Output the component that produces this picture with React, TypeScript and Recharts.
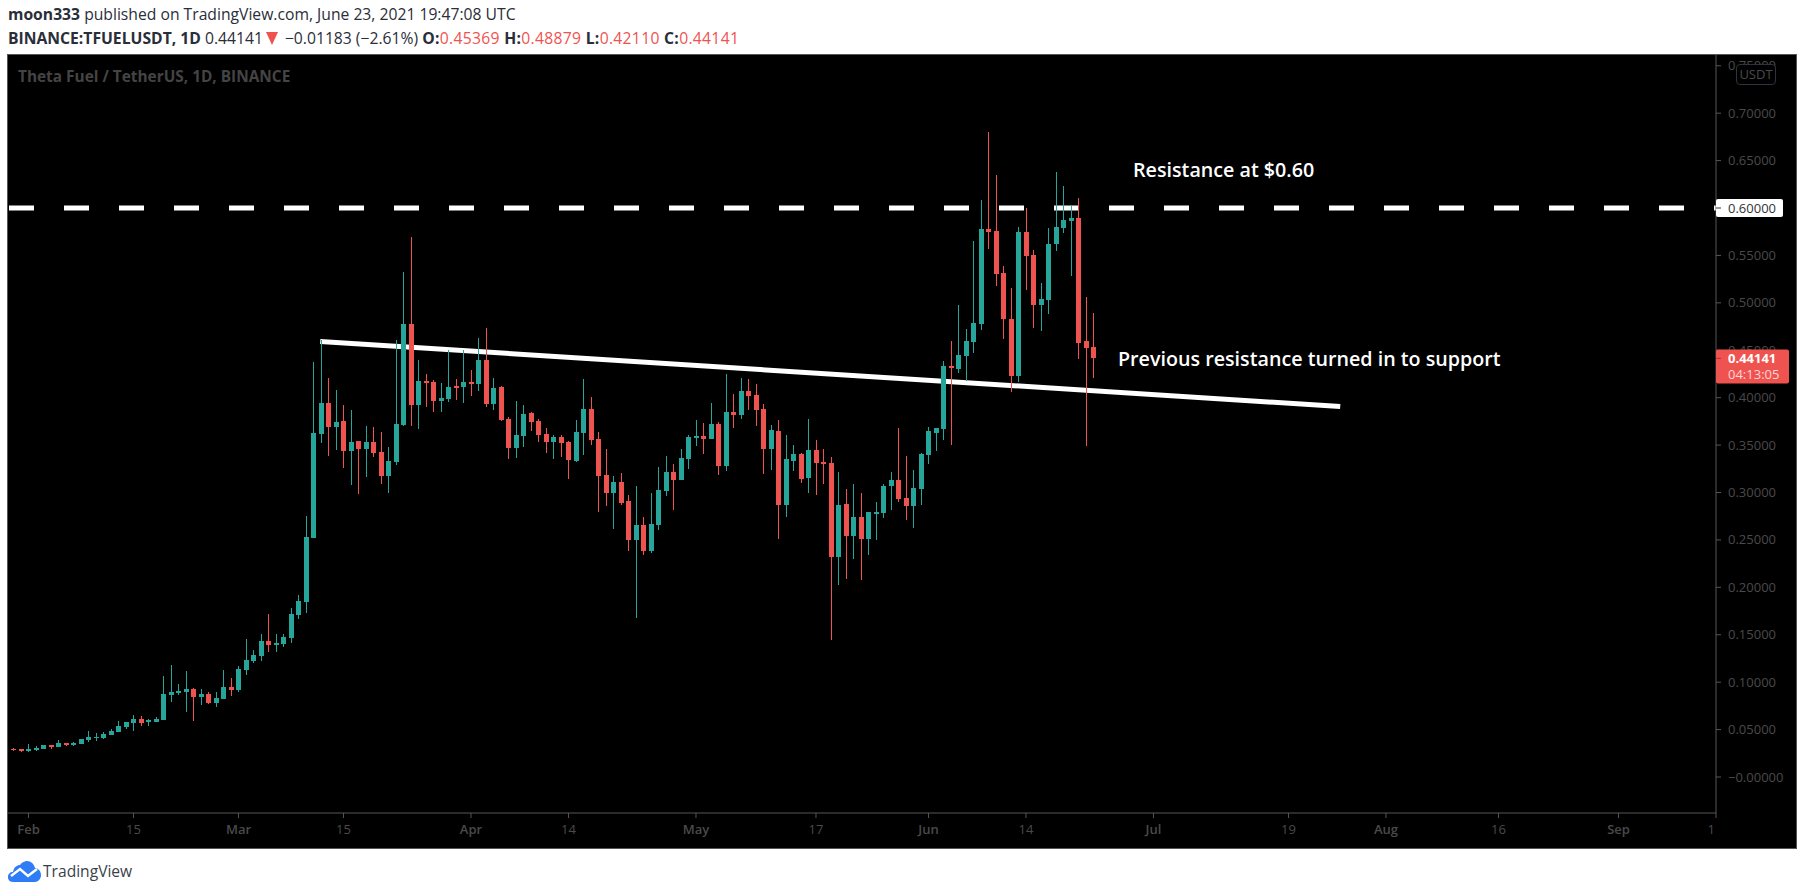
import React from 'react';
import { ComposedChart, Bar, XAxis, YAxis, ReferenceLine, ReferenceDot } from 'recharts';

const UP = '#26a69a';
const DOWN = '#ef5350';
const AXIS = '#565656';
const LABEL = '#4a4a4a';
const FONT = '"Open Sans", sans-serif';

// daily candles, day 0 is Feb 1 and the first candle is Jan 30
const firstDay = -2;
const opens = [
  .0299, .0292, .0274, .0285, .0295, .0337, .0316, .0359, .0337, .0348,
  .0390, .0415, .0411, .0443, .0475, .0527, .0569, .0612, .0591, .0580,
  .0601, .0865, .0882, .0896, .0928, .0844, .0875, .0780, .0823, .0949,
  .0917, .1128, .1223, .1276, .1434, .1392, .1402, .1466, .1708, .1845,
  .2520, .3617, .3944, .3691, .3754, .3438, .3543, .3459, .3533, .3427,
  .3174, .3322, .3712, .4777, .3923, .4176, .4165, .3965, .3986, .4123,
  .4112, .4165, .4144, .4397, .3933, .4112, .3775, .3469, .3596, .3838,
  .3754, .3617, .3533, .3585, .3533, .3332, .3627, .3880, .3564, .3185,
  .2995, .3111, .2910, .2499, .2657, .2383, .2657, .3016, .3216, .3132,
  .3353, .3575, .3596, .3564, .3722, .3279, .3849, .3817, .4070, .4028,
  .3880, .3459, .3649, .2868, .3332, .3406, .3153, .3448, .3322, .3311,
  .2320, .2879, .2541, .2742, .2510, .2773, .2784, .3069, .3132, .2942,
  .2858, .3037, .3395, .3627, .3670, .4334, .4302, .4439, .4587, .4777,
  .5779, .5757, .5315, .4830, .4228, .5747, .5504, .4977, .5030, .5620,
  .5789, .5863, .5895, .4598, .45369,
];
const highs = [
  .0306, .0295, .0348, .0327, .0337, .0337, .0390, .0359, .0369, .0401,
  .0485, .0464, .0475, .0506, .0591, .0580, .0654, .0643, .0612, .0633,
  .1065, .1181, .0981, .1118, .0939, .0928, .0896, .0896, .1128, .1044,
  .1170, .1455, .1339, .1508, .1719, .1508, .1508, .1782, .1919, .2752,
  .4376, .4608, .4207, .4081, .3923, .3870, .3543, .3701, .3691, .3638,
  .3480, .4608, .5325, .5694, .4397, .4250, .4186, .4155, .4503, .4197,
  .4503, .4292, .4629, .4735, .4207, .4123, .3796, .3965, .3923, .3849,
  .3775, .3680, .3606, .3606, .3543, .3764, .4197, .4007, .3638, .3459,
  .3174, .3206, .2974, .3069, .2742, .2995, .3269, .3385, .3301, .3459,
  .3606, .3764, .3733, .3944, .3743, .4250, .4039, .4207, .4197, .4144,
  .3933, .3712, .3764, .3606, .3501, .3416, .3775, .3554, .3459, .3374,
  .3216, .3037, .3090, .2995, .2794, .2900, .3090, .3216, .3680, .3385,
  .3237, .3416, .3691, .3680, .4387, .4598, .4977, .4724, .5652, .6084,
  .6801, .6348, .5388, .5156, .5800, .6000, .5557, .5209, .5789, .6380,
  .6232, .6032, .6105, .5062, .48879,
];
const lows = [
  .0278, .0264, .0264, .0274, .0295, .0295, .0316, .0327, .0327, .0348,
  .0369, .0380, .0401, .0443, .0475, .0506, .0485, .0538, .0538, .0580,
  .0601, .0791, .0865, .0685, .0591, .0759, .0770, .0738, .0823, .0854,
  .0896, .1076, .1202, .1223, .1318, .1318, .1371, .1413, .1666, .1729,
  .2520, .3522, .3385, .3448, .3258, .3079, .2984, .3163, .3374, .3090,
  .2995, .3290, .3701, .3701, .3670, .3902, .3849, .3849, .3954, .3975,
  .3944, .4018, .4070, .3902, .3870, .3754, .3353, .3364, .3480, .3649,
  .3533, .3416, .3353, .3374, .3142, .3322, .3395, .3501, .2794, .2858,
  .2615, .2868, .2383, .1677, .2341, .2362, .2605, .2963, .2815, .3132,
  .3248, .3490, .3406, .3564, .3185, .3227, .3680, .3775, .3870, .3701,
  .3195, .3237, .2510, .2742, .3227, .3100, .2995, .2974, .3090, .1445,
  .2025, .2088, .2299, .2077, .2341, .2499, .2731, .2815, .2900, .2710,
  .2626, .2868, .3301, .3438, .3554, .3501, .4260, .4176, .4471, .4714,
  .5568, .5178, .4619, .4060, .4165, .5135, .4735, .4703, .4882, .5547,
  .5736, .5283, .4408, .3490, .42110,
];
const closes = [
  .0285, .0274, .0295, .0309, .0337, .0316, .0359, .0337, .0359, .0401,
  .0422, .0425, .0453, .0485, .0538, .0580, .0612, .0569, .0601, .0612,
  .0875, .0896, .0907, .0928, .0844, .0875, .0780, .0833, .0949, .0917,
  .1139, .1234, .1286, .1434, .1392, .1413, .1476, .1719, .1856, .2531,
  .3627, .3944, .3691, .3743, .3438, .3533, .3459, .3533, .3416, .3174,
  .3332, .3722, .4777, .3923, .4176, .4155, .3965, .3996, .4112, .4102,
  .4165, .4144, .4397, .3933, .4102, .3764, .3469, .3606, .3828, .3743,
  .3606, .3533, .3585, .3522, .3343, .3638, .3880, .3554, .3174, .2995,
  .3111, .2889, .2499, .2657, .2383, .2668, .3026, .3216, .3132, .3364,
  .3585, .3596, .3564, .3722, .3279, .3849, .3817, .4070, .4018, .3870,
  .3459, .3659, .2868, .3353, .3406, .3142, .3448, .3311, .3301, .2320,
  .2868, .2541, .2742, .2510, .2794, .2794, .3069, .3132, .2931, .2858,
  .3047, .3406, .3649, .3680, .4334, .4313, .4450, .4598, .4787, .5779,
  .5747, .5304, .4830, .4228, .5747, .5494, .4977, .5040, .5620, .5800,
  .5873, .5895, .4576, .4524, .44141,
];

const resistance = 0.6;
const lastPrice = 0.44141;
const lastDay = 225;
const trendStart = { x: 38.9, y: 0.4592 };
const trendEnd = { x: 174.9, y: 0.3907 };

// last price goes at the end so its tag is painted over the 0.45 label
const priceTicks = [0, .05, .1, .15, .2, .25, .3, .35, .4, .45, .5, .55, .6, .65, .7, .75, lastPrice];
const dateTicks = [0, 14, 28, 42, 59, 72, 89, 105, 120, 133, 150, 168, 181, 196, 212, 225];
const dateLabels = ['Feb', '15', 'Mar', '15', 'Apr', '14', 'May', '17', 'Jun', '14', 'Jul', '19', 'Aug', '16', 'Sep', '1'];
const monthLabels = ['Feb', 'Mar', 'Apr', 'May', 'Jun', 'Jul', 'Aug', 'Sep'];

const candles = opens.map((open, i) => ({
  day: firstDay + i,
  open,
  close: closes[i],
  high: highs[i],
  low: lows[i],
  range: [lows[i], highs[i]],
}));

// wick and body are worked out from the bar the library already scaled
const Candle = (props: any) => {
  const { x, y, width, height, payload } = props;
  const pxPerUnit = height / (payload.high - payload.low);
  const color = payload.close >= payload.open ? UP : DOWN;
  const top = y + (payload.high - Math.max(payload.open, payload.close)) * pxPerUnit;
  const bottom = y + (payload.high - Math.min(payload.open, payload.close)) * pxPerUnit;
  const cx = Math.round(x + width / 2);
  return (
    <g shapeRendering="crispEdges">
      <rect x={cx - 0.5} y={y} width={1} height={height} fill={color} />
      <rect x={cx - 2.5} y={top} width={5} height={Math.max(bottom - top, 1.5)} fill={color} />
    </g>
  );
};

const DateTick = (props: any) => {
  const { x, y, payload } = props;
  const label = dateLabels[dateTicks.indexOf(payload.value)];
  const isMonth = monthLabels.includes(label);
  const isCut = payload.value === lastDay;
  return (
    <text
      x={isCut ? x - 1 : x}
      y={y + 14}
      textAnchor={isCut ? 'end' : 'middle'}
      fontFamily={FONT}
      fontSize={13}
      fontWeight={isMonth ? 600 : 400}
      fill={LABEL}
    >
      {label}
    </text>
  );
};

// the tick x sits past the 5px tick line, labels start 12px off the axis
const PriceTick = (props: any) => {
  const { x, y, payload } = props;
  const axisX = x - 5;
  const textX = axisX + 12;
  if (payload.value === lastPrice) {
    return (
      <g fontFamily={FONT} fontSize={13}>
        <rect x={axisX} y={y - 9} width={73} height={34} rx={2} fill={DOWN} />
        <line x1={axisX} x2={axisX + 5} y1={y} y2={y} stroke="#a33" />
        <text x={textX} y={y + 4.5} fontWeight={700} fill="#ffffff">0.44141</text>
        <text x={textX} y={y + 20.5} fill="#ffd5d5">04:13:05</text>
      </g>
    );
  }
  if (payload.value === resistance) {
    return (
      <g fontFamily={FONT} fontSize={13}>
        <rect x={axisX} y={y - 9} width={67} height={18} rx={2} fill="#ffffff" />
        <line x1={axisX} x2={axisX + 5} y1={y} y2={y} stroke="#333" />
        <text x={textX} y={y + 4.5} fill="#333">0.60000</text>
      </g>
    );
  }
  return (
    <text x={textX} y={y + 4.5} fontFamily={FONT} fontSize={13} fill={LABEL}>
      {payload.value === 0 ? '\u22120.00000' : payload.value.toFixed(5)}
    </text>
  );
};

const Note = ({ cx, cy, text }: any) => (
  <text x={cx} y={cy} dominantBaseline="central" fontFamily={FONT} fontSize={19.7} fontWeight={600} fill="#ffffff">
    {text}
  </text>
);

const red = { color: DOWN };

export default function App() {
  return (
    <div style={{ position: 'absolute', left: 0, top: 0, width: 1805, height: 895, background: '#fff', overflow: 'hidden', fontFamily: FONT }}>
      <div style={{ position: 'absolute', left: 8, top: 4, fontSize: 15.7, lineHeight: '20px', color: '#2a2e39', whiteSpace: 'nowrap' }}>
        <b>moon333</b> published on TradingView.com, June 23, 2021 19:47:08 UTC
      </div>
      <div style={{ position: 'absolute', left: 8, top: 28, fontSize: 15.7, lineHeight: '20px', color: '#2a2e39', whiteSpace: 'nowrap' }}>
        <b>BINANCE:TFUELUSDT, 1D</b> 0.44141
        <svg width={12} height={13} viewBox="0 0 12 13" style={{ margin: '0 7px 0 3px', verticalAlign: '-1px' }}>
          <path d="M0 0 H12 L6 13 Z" fill={DOWN} />
        </svg>
        −0.01183 (−2.61%){' '}
        <span style={{ letterSpacing: 0.3 }}>
          <b>O:</b><span style={red}>0.45369</span> <b>H:</b><span style={red}>0.48879</span> <b>L:</b><span style={red}>0.42110</span> <b>C:</b><span style={red}>0.44141</span>
        </span>
      </div>

      <div style={{ position: 'absolute', left: 8, top: 55, width: 1788, height: 793, background: '#000', outline: `1px solid ${AXIS}` }}>
        <ComposedChart width={1788} height={793} data={candles} margin={{ top: 0, right: 0, bottom: 0, left: 0 }}>
          <XAxis
            dataKey="day"
            type="number"
            scale="linear"
            domain={[-2.733, lastDay]}
            ticks={dateTicks}
            interval={0}
            allowDataOverflow
            height={35}
            tick={<DateTick />}
            tickSize={5}
            axisLine={{ stroke: AXIS }}
            tickLine={{ stroke: AXIS }}
          />
          <YAxis
            orientation="right"
            type="number"
            domain={[-0.03796, 0.76135]}
            ticks={priceTicks}
            interval={0}
            allowDataOverflow
            width={80}
            tick={<PriceTick />}
            tickMargin={0}
            tickSize={5}
            axisLine={{ stroke: AXIS }}
            tickLine={{ stroke: AXIS }}
          />
          <ReferenceLine y={resistance} stroke="#ffffff" strokeWidth={5} strokeDasharray="25 30" strokeDashoffset={23} zIndex={100} />
          <ReferenceLine segment={[trendStart, trendEnd]} stroke="#ffffff" strokeWidth={5} zIndex={100} />
          <Bar dataKey="range" barSize={5} isAnimationActive={false} shape={<Candle />} />
          <ReferenceDot x={147.27} y={0.6401} r={0} shape={<Note text="Resistance at $0.60" />} />
          <ReferenceDot x={145.27} y={0.4418} r={0} shape={<Note text="Previous resistance turned in to support" />} />
        </ComposedChart>
      </div>

      <div style={{ position: 'absolute', left: 18, top: 66, fontSize: 15.4, fontWeight: 700, color: '#444444', whiteSpace: 'nowrap' }}>
        Theta Fuel / TetherUS, 1D, BINANCE
      </div>
      <div style={{ position: 'absolute', left: 1736, top: 64, width: 40, height: 21, boxSizing: 'border-box', border: '1px solid #2f3340', borderRadius: 4, background: '#000', color: LABEL, fontSize: 13, lineHeight: '19px', textAlign: 'center' }}>
        USDT
      </div>

      <svg style={{ position: 'absolute', left: 8, top: 861 }} width={33} height={21} viewBox="0 0 33 21">
        <path d="M5 21 C1 21 0 18 0 16 C0 13 2 11 5 11 C6 6 9 4 12 4 C14 1 17 0 19 0 C23 0 26 3 27 7 C30 7 33 10 33 14 C33 18 30 21 27 21 Z" fill="#2e7cf6" />
        <path d="M3 15 L12 8 L20 15 L29 8" fill="none" stroke="#fff" strokeWidth={2.5} />
      </svg>
      <div style={{ position: 'absolute', left: 43, top: 859, fontSize: 15.6, lineHeight: '24px', color: '#3b3f4a' }}>TradingView</div>
    </div>
  );
}
